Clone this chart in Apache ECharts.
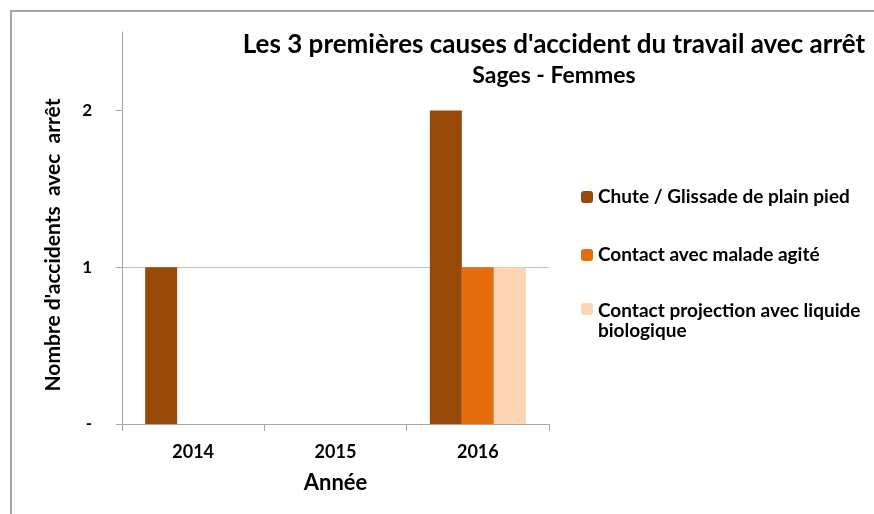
<!DOCTYPE html>
<html><head><meta charset="utf-8">
<script src="https://cdn.jsdelivr.net/npm/echarts@6/dist/echarts.min.js"></script>
<style>html,body{margin:0;padding:0;background:#fff;overflow:hidden}#c{width:874px;height:514px}</style>
</head><body><div id="c"></div>
<script>
const categories = ['2014', '2015', '2016'];
const seriesNames = ['Chute / Glissade de plain pied', 'Contact avec malade agité', 'Contact projection avec liquide\nbiologique'];
const chute = [1, 0, 2];
const malade = [0, 0, 1];
const projection = [0, 0, 1];
const yTickLabels = ['-', '1', '2'];
const yTickValues = [0, 1, 2];
const colors = ['#984807', '#E46C0A', '#FCD5B5'];
const titleLines = ['Les 3 premières causes d\'accident du travail avec arrêt', 'Sages - Femmes'];

const F = 'Lato, "Open Sans", sans-serif';
const chart = echarts.init(document.getElementById('c'));
const values = [chute, malade, projection];
const legendTops = [186, 244, 276];
const legendText = {fontFamily: F, fontWeight: 'bold', fontSize: 19, color: '#000'};
chart.setOption({
  backgroundColor: '#fff',
  graphic: [
    {type: 'line', shape: {x1: 10, y1: 11, x2: 874, y2: 11}, style: {stroke: '#a6a6a6', lineWidth: 2}, silent: true},
    {type: 'line', shape: {x1: 11, y1: 10, x2: 11, y2: 514}, style: {stroke: '#a6a6a6', lineWidth: 2}, silent: true}
  ],
  title: {
    text: '{a|' + titleLines[0] + '}\n{b|' + titleLines[1] + '}',
    left: 554, top: 30, padding: 0, textAlign: 'center',
    textStyle: {fontFamily: F, fontWeight: 'bold', fontSize: 24, lineHeight: 30, color: '#000',
      rich: {
        a: {fontFamily: F, fontWeight: 'bold', fontSize: 26, lineHeight: 30, color: '#000'},
        b: {fontFamily: F, fontWeight: 'bold', fontSize: 23, lineHeight: 31, color: '#000'}
      }}
  },
  legend: seriesNames.map((n, i) => ({
    data: [n],
    orient: 'vertical', left: 581, top: legendTops[i],
    itemWidth: 12, itemHeight: 12, itemGap: 4, padding: 0,
    formatter: name => {
      const parts = name.split('\n');
      return parts.length > 1 ? '{a|' + parts[0] + '}\n{b|' + parts[1] + '}' : name;
    },
    textStyle: Object.assign({lineHeight: 22, rich: {
      a: Object.assign({lineHeight: 44, verticalAlign: 'bottom'}, legendText),
      b: Object.assign({lineHeight: 22}, legendText)
    }}, legendText),
    selectedMode: false
  })),
  grid: {left: 122, right: 325, top: 32, bottom: 90},
  xAxis: {
    type: 'category', data: categories,
    name: 'Année', nameLocation: 'middle', nameGap: 48,
    nameTextStyle: {fontFamily: F, fontWeight: 'bold', fontSize: 22, color: '#000'},
    axisLine: {lineStyle: {color: '#a6a6a6', width: 1}},
    axisTick: {show: true, length: 7, lineStyle: {color: '#a6a6a6'}},
    axisLabel: {fontFamily: F, fontWeight: 'bold', fontSize: 18, color: '#000', margin: 19}
  },
  yAxis: {
    type: 'value', min: 0, max: 2.5, interval: 1,
    name: "Nombre d'accidents  avec  arrêt", nameLocation: 'middle', nameGap: 58,
    nameTextStyle: {fontFamily: F, fontWeight: 'bold', fontSize: 21, color: '#000', padding: [0, 34, 0, 0]},
    axisLine: {show: true, lineStyle: {color: '#a6a6a6', width: 1}},
    axisTick: {show: true, length: 6, customValues: yTickValues, lineStyle: {color: '#a6a6a6'}},
    axisLabel: {customValues: yTickValues, formatter: v => yTickLabels[yTickValues.indexOf(v)] ?? '', fontFamily: F, fontWeight: 'bold', fontSize: 17, color: '#000', margin: 30},
    splitLine: {show: true, showMaxLine: false, lineStyle: {color: '#bfbfbf', width: 1}}
  },
  series: values.map((d, i) => ({
    type: 'bar', name: seriesNames[i], data: d, barWidth: 32, barGap: '0%',
    itemStyle: {color: colors[i]}, animation: false
  })),
  animation: false
});
</script></body></html>
